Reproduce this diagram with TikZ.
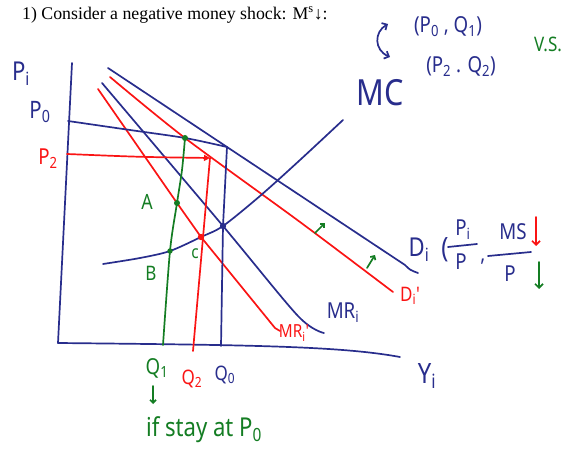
\documentclass[tikz,border=0pt]{standalone}
\usepackage{fontspec}
\setmainfont{Liberation Serif}
\newfontfamily\hand[FakeStretch=0.85]{Noto Sans}
\usetikzlibrary{arrows.meta}
\definecolor{hblue}{RGB}{40,45,140}
\definecolor{hred}{RGB}{250,20,20}
\definecolor{hgreen}{RGB}{20,125,35}
\begin{document}
\begin{tikzpicture}[x=1pt,y=-1pt,
  curve/.style={line width=1.7pt, line cap=round, line join=round},
  bl/.style={curve, draw=hblue},
  rd/.style={curve, draw=hred},
  gr/.style={curve, draw=hgreen},
  hw/.style={font=\hand\fontsize{#1}{#1}\selectfont, inner sep=0pt},
  hw/.default=20]
\useasboundingbox (0,0) rectangle (568,449);

% title
\node[anchor=west, inner sep=0pt, font=\fontsize{17.8}{18}\selectfont] (title) at (22,15)
  {1) Consider a negative money shock: M\textsuperscript{s}↓:};

% key coordinates
\coordinate (ytop) at (72,63);
\coordinate (orig) at (58,343);
\coordinate (xend) at (400,357);
\coordinate (e0) at (227,147);   % P0,Q0 corner on Di
\coordinate (g1) at (185,138);   % P0 on Di'
\coordinate (A) at (177,203);
\coordinate (Bp) at (170,251);
\coordinate (C) at (201,237);
\coordinate (E) at (223,226);
\coordinate (r2) at (210,158);
\coordinate (q0) at (221,346);
\coordinate (q1) at (163,345);
\coordinate (q2) at (193,351);

% axes
\draw[bl] (ytop) -- (orig);
\draw[bl] (orig) .. controls (250,345) and (340,346) .. (xend);

% demand curves
\draw[bl] (108,68) -- (e0) -- (405,265) .. controls (410,270) .. (418,273);
\draw[rd] plot[smooth] coordinates {(110,77) (g1) (300,222) (393,292)};
% MR curves
\draw[bl] plot[smooth] coordinates {(102,83) (E) (298,316) (324,333)};
\draw[rd] (98,89) -- (A) -- (C) -- (275,328) -- (280,331);
% MC
\draw[bl] plot[smooth] coordinates {(103,264) (140,258) (Bp) (C) (E) (260,196) (300,160) (343,120)};

% P0 line and Q0
\draw[bl] plot[smooth] coordinates {(68,121) (130,130) (g1) (e0)};
\draw[bl] (e0) -- (E) -- (q0);
% P2 line and Q2
\draw[rd, -{Triangle[length=6pt,width=6pt]}] (67,154) .. controls (140,157) .. (r2);
\draw[rd] (r2) -- (q2);
% Q1 green
\draw[gr] plot[smooth] coordinates {(g1) (182,170) (A) (Bp) (q1)};

% dots
\fill[hgreen] (g1) circle (3pt) (A) circle (3pt) (Bp) circle (2.7pt);
\fill[hred] (C) circle (3.2pt);
\fill[hblue] (E) circle (3.2pt);

% small green shift arrows
\draw[gr, -{Straight Barb[length=3pt]}] (315,233) -- (325,223);
\draw[gr, -{Straight Barb[length=3pt]}] (367,268) -- (375,255);

% labels
\node[hw=26, text=hblue] (lPi) at (21,74) {P\textsubscript{i}};
\node[hw=24, text=hblue] (lP0) at (40,112) {P\textsubscript{0}};
\node[hw=22, text=hred] (lP2) at (48,159) {P\textsubscript{2}};
\node[hw=21, text=hgreen] (lA) at (147,202) {A};
\node[hw=20, text=hgreen] (lB) at (151,273) {B};
\node[hw=18, text=hgreen] (lc) at (195,254) {c};
\node[hw=22, text=hgreen] (lQ1) at (157,368) {Q\textsubscript{1}};
\node[hw=20, text=hred] (lQ2) at (192,379) {Q\textsubscript{2}};
\node[hw=20, text=hblue] (lQ0) at (225,375) {Q\textsubscript{0}};
\node[hw=28, text=hblue] (lYi) at (427,376) {Y\textsubscript{i}};
\draw[gr, -{Straight Barb[length=3pt]}] (153,386) -- (153,404);
\node[hw=26, text=hgreen] (lstay) at (204,430) {if stay at P\textsubscript{0}};

\node[hw=18, text=hred] (lMRp) at (294,333) {MR\textsubscript{i}'};
\node[hw=22, text=hblue] (lMR) at (343,313) {MR\textsubscript{i}};
\node[hw=20, text=hred] (lDp) at (410,296) {D\textsubscript{i}'};
\node[hw=36, text=hblue] (lMC) at (380,93) {MC};

% Di label
\node[hw=26, text=hblue] (lDi) at (419,250) {D\textsubscript{i}};
\node[hw=28, text=hblue] (lpar) at (445,250) {(};
\node[hw=22, text=hblue] (lnum1) at (463,230) {P\textsubscript{i}};
\draw[bl] (448,247) -- (477,244);
\node[hw=22, text=hblue] (lden1) at (461,262) {P};
\node[hw=22, text=hblue] (lcomma) at (483,262) {,};
\node[hw=22, text=hblue] (lnum2) at (513,232) {MS};
\draw[bl] (488,256) -- (531,252);
\node[hw=22, text=hblue] (lden2) at (510,274) {P};
\draw[rd, -{Straight Barb[length=4pt]}] (536,217) -- (536,246);
\draw[gr, -{Straight Barb[length=4pt]}] (539,262) -- (539,289);

% top annotation
\node[hw=22, text=hblue] (pair1) at (448,27) {(P\textsubscript{0} , Q\textsubscript{1})};
\node[hw=22, text=hblue] (pair2) at (461,67) {(P\textsubscript{2} . Q\textsubscript{2})};
\draw[bl, {Straight Barb[length=4pt]}-{Straight Barb[length=4pt]}] (388,24) .. controls (374,32) and (374,50) .. (390,57);
\node[hw=20, text=hgreen] (lvs) at (548,44) {V.S.};
\end{tikzpicture}
\end{document}
